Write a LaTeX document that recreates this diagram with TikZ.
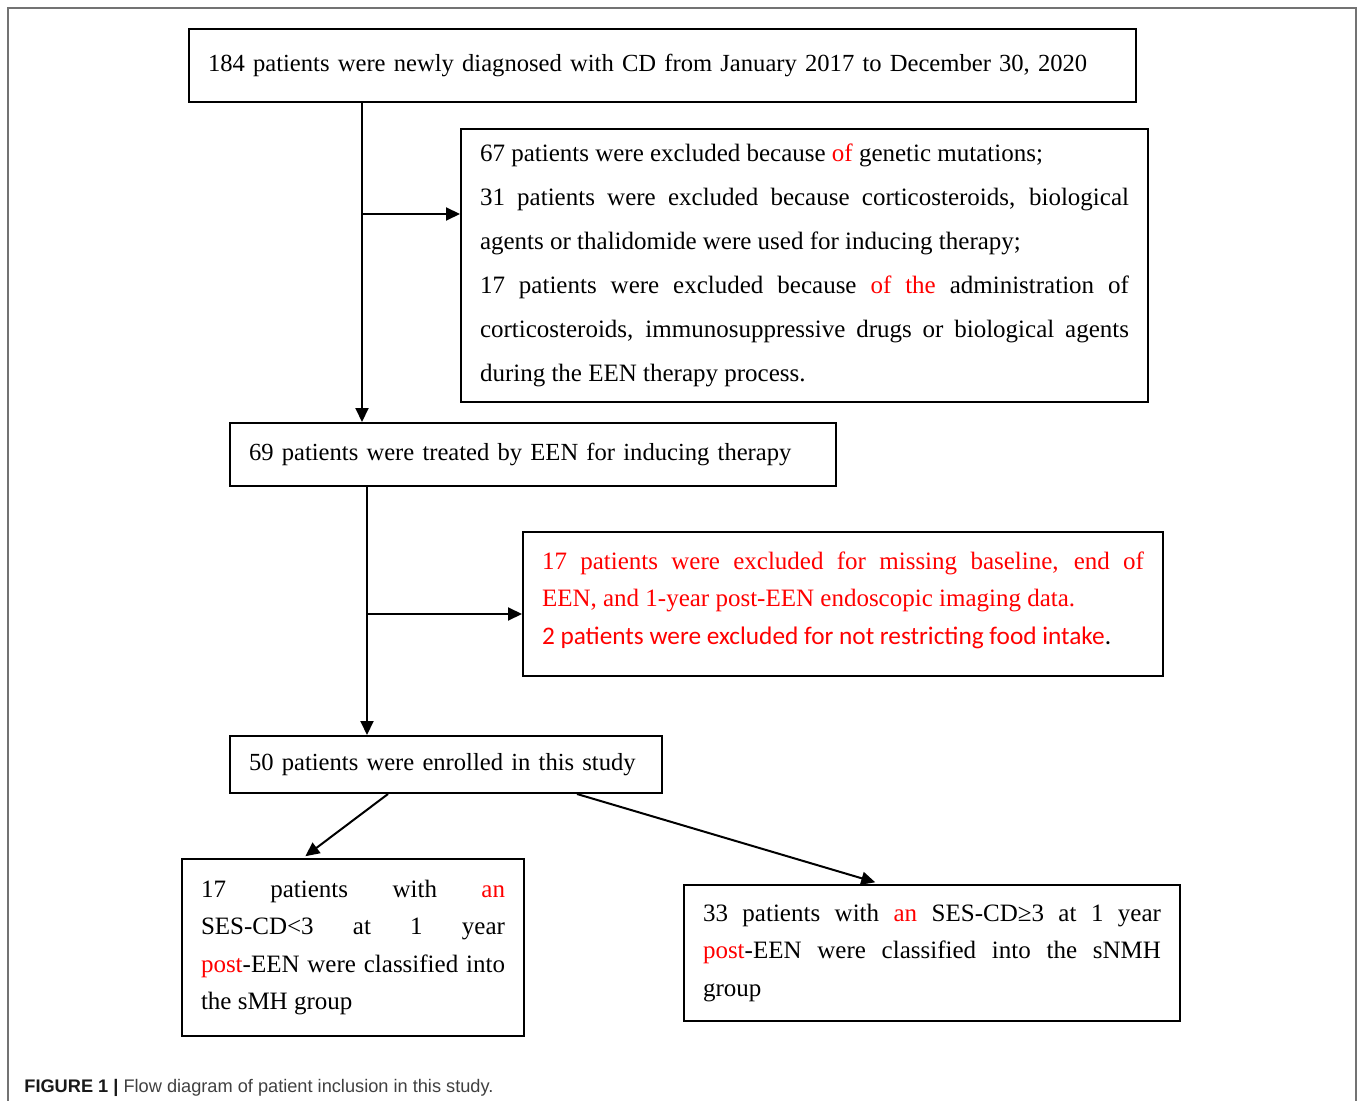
\documentclass[tikz,border=0pt]{standalone}
\usepackage{fontspec}
\setmainfont{Liberation Serif}
\setsansfont{Liberation Sans}
\newfontfamily\calibri{Carlito}
\usetikzlibrary{arrows.meta}
\hyphenpenalty=10000
\exhyphenpenalty=10000

\newcommand{\rd}[1]{\textcolor{red}{#1}}

\tikzset{
  flowbox/.style={draw, line width=1pt, anchor=north west, inner xsep=9.5pt,
    inner ysep=0pt, align=justify, font=\fontsize{12.5}{18.75}\selectfont},
  onebox/.style={flowbox, align=left, font=\fontsize{12.3}{18.75}\selectfont},
  arr/.style={line width=1pt, -{Triangle[length=7pt,width=6.5pt]}},
  frame/.style={draw=black!55, line width=0.8pt}
}

\begin{document}
\begin{tikzpicture}[x=0.5pt, y=-0.5pt]
  \useasboundingbox (0,0) rectangle (1358,1101);
  \draw[frame] (8,1110) |- (1356,8) -- (1356,1110);

  \node[onebox, text width=454.5pt, minimum height=36.5pt] (diag) at (188,28)
    {184 patients were newly diagnosed with CD from January 2017 to December 30, 2020};
  \node[flowbox, text width=324.5pt, minimum height=136.5pt,
    font=\fontsize{12.5}{22}\selectfont] (excl1) at (460,128)
    {67 patients were excluded because \rd{of} genetic mutations;\\
     31 patients were excluded because corticosteroids, biological\linebreak
     agents or thalidomide were used for inducing therapy;\\
     17 patients were excluded because \rd{of the} administration of\linebreak
     corticosteroids, immunosuppressive drugs or biological agents\linebreak
     during the EEN therapy process.};
  \node[onebox, text width=284pt, minimum height=31.5pt] (een) at (229,422)
    {69 patients were treated by EEN for inducing therapy};
  \node[flowbox, text width=301pt, minimum height=72pt] (excl2) at (522,531)
    {\color{red}17 patients were excluded for missing baseline, end of\linebreak
     EEN, and 1-year post-EEN endoscopic imaging data.\\
     {\calibri\fontsize{12.65}{18.75}\selectfont 2 patients were excluded for not restricting food intake\textcolor{black}{.}}\par
     \vspace{4pt}};
  \node[onebox, text width=197pt, minimum height=28.5pt] (enrol) at (229,735)
    {50 patients were enrolled in this study};
  \node[flowbox, text width=152pt, minimum height=88.5pt] (smh) at (181,858)
    {17 patients with \rd{an}\linebreak
     SES-CD<3 at 1 year\linebreak
     \rd{post}-EEN were classified into\linebreak
     the sMH group};
  \node[flowbox, text width=229pt, minimum height=68pt] (snmh) at (683,884)
    {33 patients with \rd{an} SES-CD≥3 at 1 year\linebreak
     \rd{post}-EEN were classified into the sNMH\linebreak
     group};

  \coordinate (t1) at (362,0);
  \coordinate (j1) at (362,214);
  \coordinate (t2) at (367,0);
  \coordinate (j2) at (367,614);
  \coordinate (d1) at (388,0);
  \coordinate (d2) at (303,0);
  \coordinate (d3) at (577,0);
  \coordinate (d4) at (881,0);

  \draw[arr] (diag.south -| t1) -- (een.north -| t1);
  \draw[arr] (j1) -- (j1 -| excl1.west);
  \draw[arr] (een.south -| t2) -- (enrol.north -| t2);
  \draw[arr] (j2) -- (j2 -| excl2.west);
  \draw[arr, shorten >=1.5pt] (enrol.south -| d1) -- (smh.north -| d2);
  \draw[arr, shorten >=3pt] (enrol.south -| d3) -- (snmh.north -| d4);

  \node[anchor=base west, inner sep=0pt, font=\sffamily\fontsize{9.1}{11}\selectfont,
    text=black!75] (cap) at (24,1092)
    {\textcolor{black!90}{\bfseries FIGURE 1 |} Flow diagram of patient inclusion in this study.};
\end{tikzpicture}
\end{document}
